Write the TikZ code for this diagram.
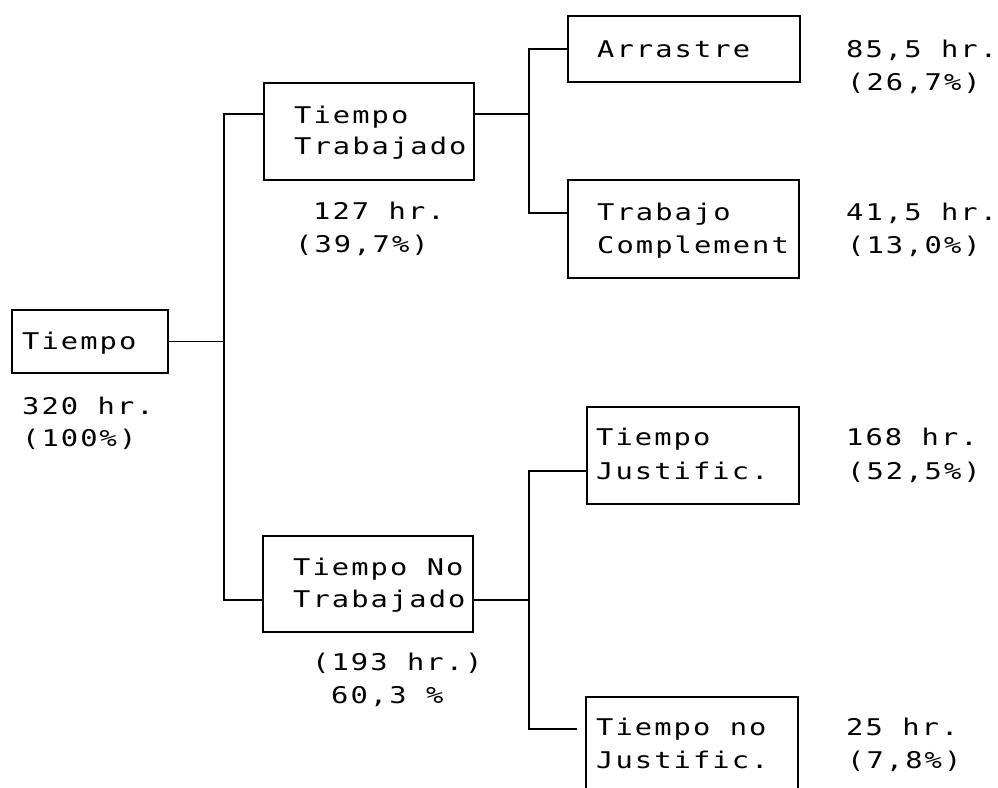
\documentclass[tikz,border=0pt]{standalone}
\usepackage{fontspec}
\usetikzlibrary{calc}
\newfontfamily\dotfont{DejaVu Sans Mono}[FakeStretch=1.25, LetterSpace=9]
\begin{document}
\begin{tikzpicture}[x=1pt,y=-1pt,
  box/.style={draw, line width=1.9pt, inner sep=0pt, anchor=north west},
  conn/.style={line width=1.9pt},
  txt/.style={inner sep=0pt, anchor=base west, font=\dotfont\fontsize{23}{28}\selectfont}]
\useasboundingbox (0,0) rectangle (998,787);
\clip (0,0) rectangle (998,787);

% boxes
\node[box, minimum width=156pt, minimum height=63pt] (T0) at (11,309) {};
\node[box, minimum width=210pt, minimum height=97pt] (TT) at (263,82) {};
\node[box, minimum width=210pt, minimum height=96pt] (TN) at (262,535) {};
\node[box, minimum width=232pt, minimum height=66pt] (AR) at (567,15) {};
\node[box, minimum width=231pt, minimum height=98pt] (TC) at (567,179) {};
\node[box, minimum width=212pt, minimum height=97pt] (TJ) at (586,406) {};
\node[box, minimum width=212pt, minimum height=97pt] (TNJ) at (585,696) {};

% texts
\node[txt] (t0a) at (22,349) {Tiempo};
\node[txt] (t0b) at (22,414) {320 hr.};
\node[txt] (t0c) at (22,446) {(100\%)};
\node[txt] (tta) at (294,123) {Tiempo};
\node[txt] (ttb) at (294,154) {Trabajado};
\node[txt] (ttc) at (313,219) {127 hr.};
\node[txt] (ttd) at (295,252) {(39,7\%)};
\node[txt] (ara) at (597,57) {Arrastre};
\node[txt] (arb) at (846,57) {85,5 hr.};
\node[txt] (arc) at (847,90) {(26,7\%)};
\node[txt] (tca) at (597,220) {Trabajo};
\node[txt] (tcb) at (597,253) {Complement};
\node[txt] (tcc) at (846,220) {41,5 hr.};
\node[txt] (tcd) at (847,253) {(13,0\%)};
\node[txt] (tna) at (293,575) {Tiempo No};
\node[txt] (tnb) at (293,607) {Trabajado};
\node[txt] (tnc) at (312,670) {(193 hr.)};
\node[txt] (tnd) at (331,703) {60,3 \%};
\node[txt] (tja) at (596,445) {Tiempo};
\node[txt] (tjb) at (596,479) {Justific.};
\node[txt] (tjc) at (846,445) {168 hr.};
\node[txt] (tjd) at (847,479) {(52,5\%)};
\node[txt] (tqa) at (596,735) {Tiempo no};
\node[txt] (tqb) at (596,768) {Justific.};
\node[txt] (tqc) at (846,735) {25 hr.};
\node[txt] (tqd) at (847,768) {(7,8\%)};

% spines and attachment points
\coordinate (sA) at (224,0);
\coordinate (sB) at (529,0);
\coordinate (TTin)  at ($(TT.north west)!0.32!(TT.south west)$);
\coordinate (TTout) at ($(TT.north east)!0.32!(TT.south east)$);
\coordinate (TNin)  at ($(TN.north west)!0.667!(TN.south west)$);
\coordinate (TNout) at ($(TN.north east)!0.667!(TN.south east)$);
\coordinate (TCin)  at ($(TC.north west)!0.337!(TC.south west)$);
\coordinate (TJin)  at ($(TJ.north west)!0.66!(TJ.south west)$);
\coordinate (TNJend) at ($(TNJ.north west)!0.33!(TNJ.south west) + (-8,0)$);

% connectors
\draw[conn] (T0.east) -- (T0.east -| sA);
\draw[conn] (TTin) -| (sA |- TNin) -- (TNin);
\draw[conn] (TTout) -- (TTout -| sB);
\draw[conn] (AR.west) -| (sB |- TCin) -- (TCin);
\draw[conn] (TNout) -- (TNout -| sB);
\draw[conn] (TJin) -| (sB |- TNJend) -- (TNJend);
\end{tikzpicture}
\end{document}
